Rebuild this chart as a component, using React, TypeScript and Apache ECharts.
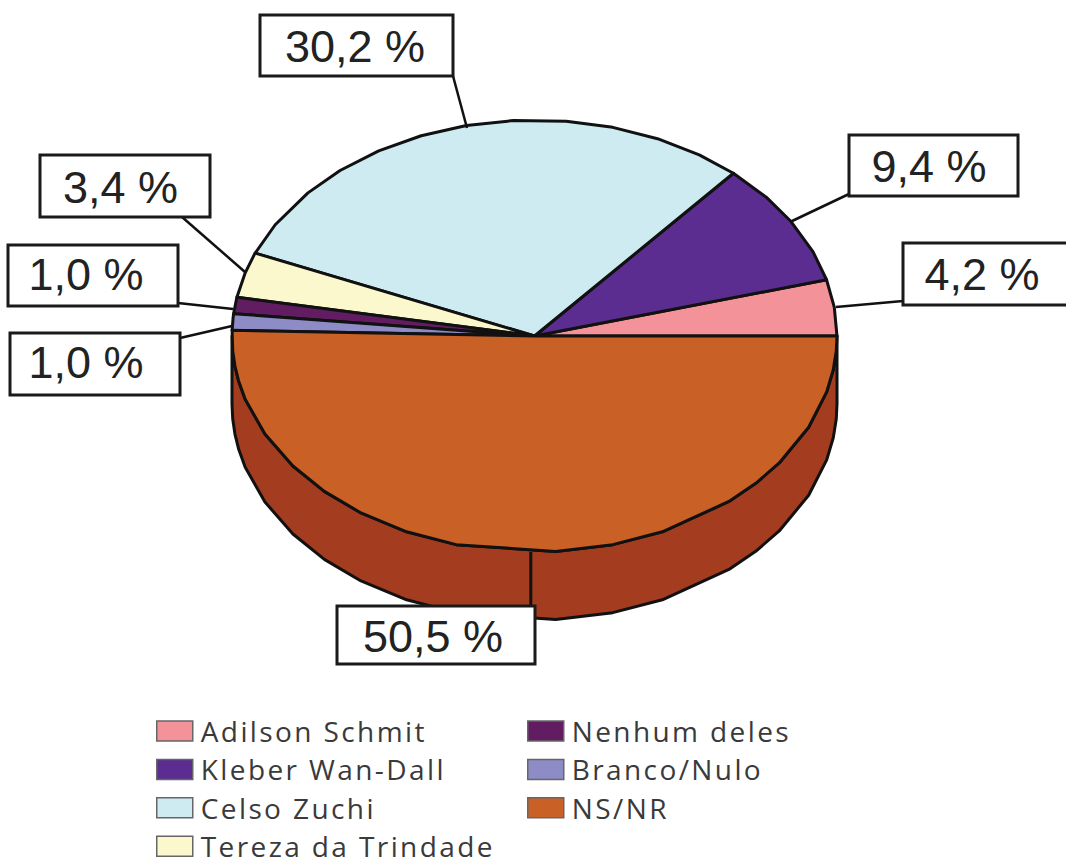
import React, { useEffect, useRef } from "react";
import * as echarts from "echarts";

const categories = ["Adilson Schmit", "Kleber Wan-Dall", "Celso Zuchi", "Tereza da Trindade", "Nenhum deles", "Branco/Nulo", "NS/NR"];
const values = [4.2, 9.4, 30.2, 3.4, 1.0, 1.0, 50.5];
const colors = ["#F4929A", "#5B2D91", "#CDEBF1", "#FBF8CE", "#621D62", "#8E8CC6", "#C96127"];
const valueLabels = ["4,2 %", "9,4 %", "30,2 %", "3,4 %", "1,0 %", "1,0 %", "50,5 %"];
const wallColor = "#A43C20";
const lineColor = "#111111";

const CX = 534.5, CY = 336, RX = 302.5, RY = 216, DEPTH = 68;
const MIN_ANGLE = 4.4; // smallest slice angle, as a pie's minAngle
const FACETS = [7.7, 15, 23, 32, 40, 49, 57, 66, 75, 84, 94, 103, 112, 121, 130, 138.5, 149, 158, 163, 170, 175, 184, 188, 192, 197, 207, 217, 226, 235, 245, 255, 274, 285, 295, 310, 317, 324, 335, 345, 351, 356];

// Slice angles: small slices get MIN_ANGLE, the others share the rest.
const small = values.filter((v) => v < 1.2);
const rest = values.filter((v) => v >= 1.2).reduce((a, b) => a + b, 0);
const perUnit = (360 - small.length * MIN_ANGLE) / rest;
const spans = values.map((v) => (v < 1.2 ? MIN_ANGLE : v * perUnit));

// [x, y, width, height, textX, textY, lineX1, lineY1, lineX2, lineY2]
const boxes = [
  [903, 243, 166, 62, 982, 274.5, 836, 307, 903, 301],
  [849, 135, 169, 61, 929, 166.5, 790, 222, 849, 194],
  [260, 15, 193, 61, 355, 46.5, 453, 76, 467, 128],
  [40, 155, 170, 62, 120.5, 187.5, 182, 217, 245, 272],
  [8, 245, 170, 61, 86, 274.5, 178, 303, 233, 309],
  [10, 333, 170, 62, 86, 362.5, 180, 338, 232, 326],
  [337, 606, 198, 58, 433, 636.5, 0, 0, 0, 0],
];

const pt = (deg: number, dy = 0): number[] => {
  const a = (deg * Math.PI) / 180;
  return [CX + RX * Math.cos(a), CY - RY * Math.sin(a) + dy];
};
const arc = (from: number, to: number, dy = 0): number[][] => {
  const lo = Math.min(from, to), hi = Math.max(from, to);
  const inner = FACETS.filter((d) => d > lo + 0.3 && d < hi - 0.3);
  const seq = [lo, ...inner, hi];
  if (from > to) seq.reverse();
  return seq.map((d) => pt(d, dy));
};

export default function App() {
  const ref = useRef<HTMLDivElement>(null);
  useEffect(() => {
    const chart = echarts.init(ref.current!, null, { renderer: "svg" });
    const legendText = { fontFamily: "Open Sans", fontSize: 28, color: "#3a3a3a", padding: [0, 0, 0, 3] };
    const legendBase = {
      orient: "vertical" as const,
      padding: 0,
      height: 300,
      itemWidth: 36,
      itemHeight: 20,
      itemGap: 10.4,
      icon: "rect",
      selectedMode: false,
      itemStyle: { borderColor: "#666666", borderWidth: 1.5 },
      textStyle: legendText,
    };
    const series = categories.map((name, i) => {
      const from = spans.slice(0, i).reduce((a, b) => a + b, 0);
      return {
        type: "custom",
        name,
        coordinateSystem: "none",
        silent: true,
        clip: false,
        itemStyle: { color: colors[i] },
        data: [[values[i]]],
        renderItem: () => {
          const to = from + spans[i];
          const stroke = { stroke: lineColor, lineWidth: 3, lineJoin: "round" };
          const children: any[] = [];
          if (to > 180 && to - from > 90) {
            const a0 = Math.max(from, 180);
            children.push({
              type: "polygon",
              shape: { points: [...arc(a0, 360, DEPTH), ...arc(360, a0, 0)] },
              style: { fill: wallColor, ...stroke },
            });
            const seam = pt(269.3);
            children.push({
              type: "line",
              shape: { x1: seam[0], y1: seam[1], x2: seam[0], y2: seam[1] + DEPTH },
              style: { stroke: lineColor, lineWidth: 3 },
            });
          }
          children.push({
            type: "polygon",
            shape: { points: [[CX, CY], ...arc(from, to)] },
            style: { fill: colors[i], ...stroke },
          });
          return { type: "group", children };
        },
      };
    });
    const graphicEls: any[] = [];
    boxes.forEach((b, i) => {
      if (b[6] || b[8]) {
        graphicEls.push({
          type: "line",
          z: 100,
          shape: { x1: b[6], y1: b[7], x2: b[8], y2: b[9] },
          style: { stroke: lineColor, lineWidth: 2.5 },
        });
      }
      graphicEls.push({
        type: "rect",
        z: 101,
        shape: { x: b[0], y: b[1], width: b[2], height: b[3] },
        style: { fill: "#ffffff", stroke: "#1a1a1a", lineWidth: 3 },
      });
      graphicEls.push({
        type: "text",
        z: 102,
        x: b[4],
        y: b[5],
        style: {
          text: valueLabels[i],
          fill: "#222222",
          font: "45px 'Liberation Sans'",
          textAlign: "center",
          textVerticalAlign: "middle",
        },
      });
    });
    chart.setOption({
      animation: false,
      backgroundColor: "#ffffff",
      legend: [
        { ...legendBase, left: 156, top: 717, data: categories.slice(0, 4) },
        { ...legendBase, left: 527, top: 717, data: categories.slice(4) },
      ],
      series,
      graphic: { elements: graphicEls },
    });
    return () => chart.dispose();
  }, []);
  return (
    <>
      <style>{`text[style*="Open Sans"]{letter-spacing:2.4px}`}</style>
      <div ref={ref} style={{ position: "fixed", left: 0, top: 0, width: 1066, height: 858 }} />
    </>
  );
}
